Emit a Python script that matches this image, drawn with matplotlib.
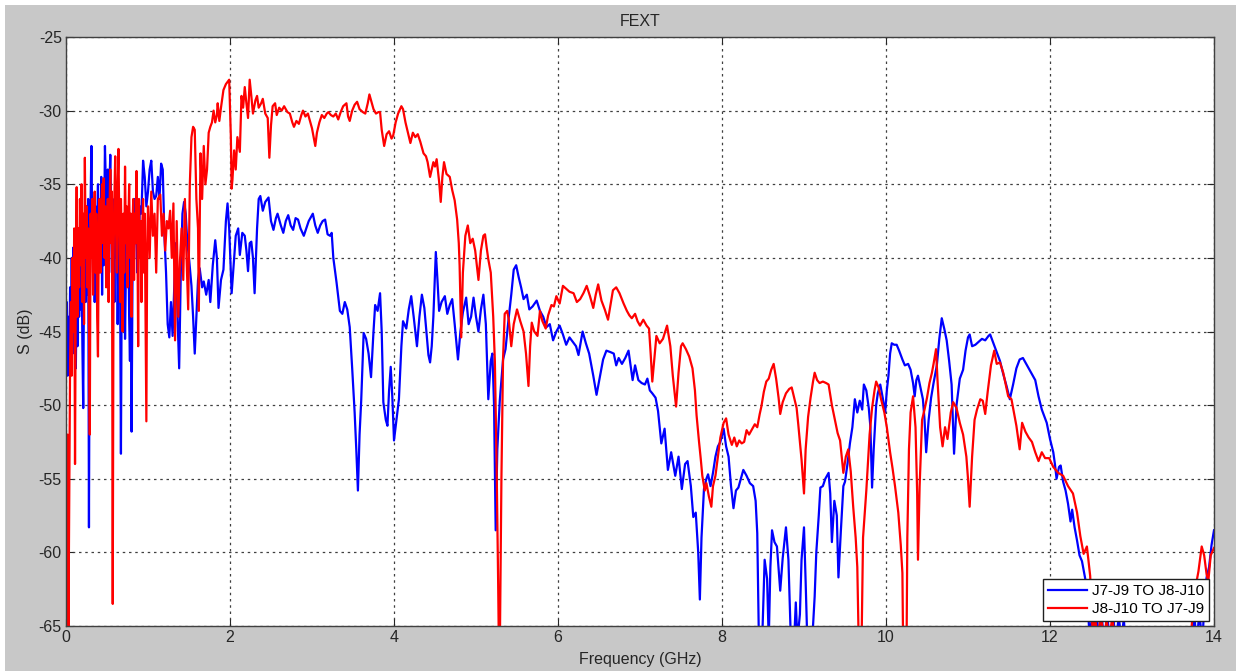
import matplotlib
matplotlib.use("Agg")
import matplotlib.pyplot as plt
from matplotlib.patches import Rectangle

# J7-J9 -> J8-J10 far-end crosstalk (GHz, dB)
blue_f = [0.0, 0.01, 0.02, 0.03, 0.04, 0.05, 0.06, 0.07, 0.08, 0.09, 0.10, 0.11, 0.12, 0.13, 0.14,
          0.15, 0.16, 0.17, 0.18, 0.19, 0.20, 0.21, 0.22, 0.23, 0.24, 0.25, 0.26, 0.27, 0.28, 0.29,
          0.30, 0.31, 0.32, 0.33, 0.34, 0.35, 0.36, 0.37, 0.38, 0.39, 0.40, 0.41, 0.42, 0.43, 0.44,
          0.45, 0.46, 0.475, 0.49, 0.50, 0.51, 0.52, 0.53, 0.54, 0.55, 0.56, 0.57, 0.58, 0.59, 0.60,
          0.61, 0.62, 0.63, 0.64, 0.65, 0.66, 0.67, 0.68, 0.69, 0.70, 0.71, 0.72, 0.73, 0.74, 0.75,
          0.76, 0.77, 0.78, 0.79, 0.80, 0.81, 0.82, 0.83, 0.84, 0.85, 0.86, 0.87, 0.88, 0.89, 0.90,
          0.92, 0.94, 0.96, 0.98, 1.00, 1.02, 1.04, 1.06, 1.08, 1.10, 1.12, 1.14, 1.16, 1.18, 1.20,
          1.22, 1.24, 1.26, 1.28, 1.30, 1.32, 1.34, 1.36, 1.38, 1.40, 1.42, 1.44, 1.46, 1.48, 1.50,
          1.53, 1.55, 1.57, 1.59, 1.61, 1.63, 1.66, 1.68, 1.71, 1.74, 1.76, 1.79, 1.82, 1.84, 1.86,
          1.89, 1.92, 1.95, 1.97, 1.99, 2.02, 2.05, 2.07, 2.10, 2.12, 2.15, 2.18, 2.20, 2.22, 2.24,
          2.26, 2.28, 2.30, 2.33, 2.35, 2.37, 2.40, 2.43, 2.47, 2.50, 2.53, 2.56, 2.58, 2.62, 2.65,
          2.68, 2.71, 2.74, 2.77, 2.80, 2.83, 2.86, 2.90, 2.93, 2.96, 3.01, 3.04, 3.07, 3.10, 3.13,
          3.16, 3.19, 3.22, 3.24, 3.26, 3.30, 3.34, 3.37, 3.40, 3.43, 3.46, 3.49, 3.52, 3.54, 3.56,
          3.58, 3.60, 3.63, 3.66, 3.69, 3.72, 3.75, 3.77, 3.80, 3.83, 3.85, 3.87, 3.90, 3.92, 3.94,
          3.96, 3.98, 4.00, 4.03, 4.06, 4.09, 4.11, 4.15, 4.18, 4.21, 4.24, 4.28, 4.31, 4.34, 4.37,
          4.40, 4.42, 4.44, 4.46, 4.48, 4.51, 4.53, 4.55, 4.58, 4.62, 4.65, 4.68, 4.71, 4.74, 4.78,
          4.81, 4.84, 4.88, 4.91, 4.94, 4.97, 5.00, 5.03, 5.06, 5.09, 5.12, 5.15, 5.18, 5.20, 5.22,
          5.24, 5.26, 5.29, 5.33, 5.36, 5.40, 5.43, 5.46, 5.49, 5.52, 5.55, 5.58, 5.62, 5.65, 5.69,
          5.74, 5.78, 5.82, 5.86, 5.90, 5.94, 5.98, 6.02, 6.06, 6.10, 6.14, 6.18, 6.22, 6.25, 6.30,
          6.34, 6.38, 6.43, 6.47, 6.51, 6.55, 6.59, 6.64, 6.68, 6.71, 6.74, 6.78, 6.82, 6.86, 6.91,
          6.94, 6.98, 7.02, 7.06, 7.09, 7.12, 7.15, 7.19, 7.22, 7.26, 7.30, 7.34, 7.38, 7.43, 7.47,
          7.51, 7.55, 7.58, 7.62, 7.65, 7.68, 7.71, 7.73, 7.75, 7.78, 7.81, 7.83, 7.86, 7.89, 7.92,
          7.95, 7.98, 8.02, 8.05, 8.08, 8.11, 8.14, 8.17, 8.20, 8.23, 8.26, 8.30, 8.34, 8.38, 8.41,
          8.43, 8.45, 8.49, 8.52, 8.55, 8.57, 8.59, 8.61, 8.64, 8.67, 8.71, 8.74, 8.78, 8.81, 8.84,
          8.88, 8.90, 8.92, 8.95, 8.97, 9.00, 9.02, 9.04, 9.10, 9.13, 9.15, 9.18, 9.20, 9.23, 9.26,
          9.30, 9.32, 9.34, 9.37, 9.40, 9.42, 9.45, 9.48, 9.50, 9.53, 9.56, 9.59, 9.62, 9.65, 9.68,
          9.71, 9.73, 9.76, 9.79, 9.81, 9.83, 9.85, 9.88, 9.90, 9.93, 9.96, 9.99, 10.01, 10.03, 10.05,
          10.07, 10.10, 10.13, 10.16, 10.20, 10.23, 10.27, 10.30, 10.33, 10.35, 10.37, 10.39, 10.42, 10.45, 10.47,
          10.49, 10.52, 10.55, 10.58, 10.62, 10.65, 10.68, 10.71, 10.74, 10.77, 10.80, 10.83, 10.86, 10.90, 10.94,
          10.97, 11.00, 11.02, 11.05, 11.09, 11.13, 11.17, 11.21, 11.25, 11.27, 11.31, 11.35, 11.39, 11.43, 11.47,
          11.51, 11.55, 11.59, 11.63, 11.67, 11.71, 11.75, 11.79, 11.82, 11.86, 11.90, 11.96, 12.00, 12.04, 12.06,
          12.08, 12.11, 12.13, 12.16, 12.19, 12.22, 12.25, 12.27, 12.30, 12.33, 12.36, 12.39, 12.43, 12.46, 12.48,
          12.52, 12.54, 12.57, 12.60, 12.63, 12.66, 12.70, 12.73, 12.77, 12.80, 12.84, 12.87, 12.90, 12.93, 13.50,
          13.72, 13.76, 13.79, 13.82, 13.86, 13.89, 13.91, 13.94, 13.97, 14.00]
blue_db = [-47, -43, -48, -44, -47.5, -42, -46, -40, -46.5, -39.3, -45, -41, -47.5, -42, -46,
           -39.5, -44, -41, -43.5, -40, -46, -50.2, -41, -37, -43, -38, -42.5, -36, -58.3, -40,
           -36, -32.4, -38, -41, -37, -43, -36.5, -40, -38, -35, -41, -37, -39.5, -34.5, -42.5,
           -37, -40.5, -32.4, -36, -39.5, -34, -38, -35, -33, -37, -41, -36, -38.5, -43, -37,
           -40, -38, -44.5, -40, -37.5, -42, -53.3, -41, -38, -42, -39, -45.5, -41, -38, -40.5,
           -37.5, -44, -47, -40, -51.8, -42, -38, -40, -36, -39, -37.5, -41, -37, -39, -36.5,
           -37, -33.4, -34.5, -36.5, -35.5, -34, -33.4, -35.5, -36, -35.8, -34.5, -36, -33.6, -34, -38.5,
           -41, -44.5, -45.4, -43, -45.3, -42, -39, -44, -47.5, -41, -37, -36.2, -37, -39, -40,
           -41.9, -44, -46.5, -44, -41.5, -40.7, -42, -41.6, -42.5, -41.5, -43, -40.5, -38.8, -40, -43.4,
           -41.5, -40.8, -37.5, -36.3, -38, -42.4, -40, -38.5, -38, -39.8, -38.3, -38.5, -39.5, -40.9, -39,
           -38.9, -40, -42.4, -38, -36, -35.8, -36.8, -36.2, -35.9, -37.5, -38.1, -37.3, -37, -37.8, -38.3,
           -37.5, -37.1, -37.8, -38.1, -37.3, -37.4, -38, -38.5, -38, -37.5, -37, -37.8, -38.3, -37.8, -37.5,
           -37.4, -38.4, -38.5, -38.3, -40, -41.7, -43.6, -43.8, -43.0, -43.5, -44.7, -47.5, -50.5, -53, -55.8,
           -52, -49.7, -45.1, -45.5, -46.5, -48.1, -45, -43.2, -43.6, -42.4, -45, -49.8, -51, -51.4, -49,
           -47.4, -49.5, -52.4, -51, -49.6, -46, -44.3, -44.8, -43.5, -42.6, -44, -46.0, -44, -42.5, -43.4,
           -45.3, -46.6, -47.1, -46, -44, -39.6, -41.5, -43.6, -43, -42.6, -43.8, -43.2, -42.8, -44.5, -46.9,
           -45, -43.7, -42.7, -44.5, -44, -42.7, -44, -45, -43.5, -42.5, -44.5, -49.6, -47, -46.5, -50,
           -58.5, -53, -49.7, -46.9, -46.2, -44, -42.5, -40.8, -40.5, -41.3, -42, -42.8, -42.5, -43.5, -43.3,
           -42.9, -43.6, -44, -44.7, -44.5, -45.6, -45, -44.6, -45.2, -45.9, -45.4, -45.7, -46, -46.6, -45.0,
           -45.8, -46.5, -48, -49.3, -48.1, -46.9, -46.3, -46.4, -46.5, -47.3, -46.8, -47.2, -46.8, -46.3, -48.3,
           -47.3, -48.3, -48.5, -48.6, -48.2, -49.0, -49.2, -49.5, -50.4, -52.6, -51.6, -54.4, -53.2, -54.8, -53.5,
           -55.7, -54.0, -53.8, -55.5, -57.6, -57.3, -60, -63.2, -59, -55.7, -55.0, -54.7, -55.5, -54.6, -53.5,
           -52.8, -52.5, -51.6, -52.8, -53.5, -55.5, -57, -55.8, -55.6, -55, -54.4, -54.8, -55.3, -55.5, -56.5,
           -58.7, -66, -66, -60.5, -61.8, -66, -61, -58.5, -59.3, -59.6, -62.6, -60.4, -58.3, -60.5, -66,
           -66, -63.4, -66, -64.2, -60.5, -58.3, -62, -66, -66, -63, -60, -57.5, -55.6, -55.5, -55,
           -54.6, -56, -59.3, -56.5, -57.5, -61.7, -58.5, -55.5, -55.2, -54, -52.6, -51.5, -49.6, -50.5, -49.7,
           -50.3, -48.6, -49, -50.2, -51.5, -55.6, -53, -50, -49.2, -48.6, -49.5, -50.5, -49, -48, -46.5,
           -45.8, -45.9, -45.9, -46.3, -46.9, -47.3, -47.2, -47.6, -48.5, -49.4, -48.3, -48.0, -48.8, -49.6, -51,
           -53.2, -51, -49.5, -48.5, -47.3, -45.5, -44.1, -44.8, -45.6, -47, -48.6, -53.3, -50, -48.2, -47.6,
           -46.3, -45.4, -45.2, -46, -45.9, -45.7, -45.5, -45.6, -45.3, -45.2, -45.8, -46.4, -47, -47.9, -48.7,
           -49.6, -48.6, -47.5, -46.9, -46.8, -47.2, -47.6, -48, -48.3, -49.4, -50.3, -51.2, -52.3, -53.2, -54,
           -55.0, -54.2, -54.1, -55.2, -55.8, -56.7, -57.9, -57.1, -58.3, -59.2, -60.2, -60.6, -61.8, -63.5, -65.5,
           -64.3, -66, -64.3, -66, -64.3, -66, -64.4, -66, -64.3, -66, -64.4, -66, -64.5, -67, -68,
           -66, -64.4, -66, -64.2, -66, -62.5, -61.7, -61, -59.5, -58.5]

# J8-J10 -> J7-J9 far-end crosstalk (GHz, dB)
red_f = [0.0, 0.01, 0.02, 0.03, 0.04, 0.05, 0.06, 0.07, 0.08, 0.09, 0.10, 0.11, 0.12, 0.13, 0.14,
         0.15, 0.16, 0.17, 0.18, 0.19, 0.20, 0.21, 0.22, 0.23, 0.24, 0.25, 0.26, 0.27, 0.28, 0.29,
         0.30, 0.31, 0.32, 0.33, 0.34, 0.35, 0.36, 0.37, 0.38, 0.39, 0.40, 0.41, 0.42, 0.43, 0.44,
         0.45, 0.46, 0.47, 0.48, 0.49, 0.50, 0.51, 0.52, 0.53, 0.54, 0.55, 0.56, 0.57, 0.58, 0.59,
         0.60, 0.61, 0.62, 0.63, 0.64, 0.65, 0.66, 0.67, 0.68, 0.69, 0.70, 0.71, 0.72, 0.73, 0.74,
         0.75, 0.76, 0.77, 0.78, 0.79, 0.80, 0.81, 0.82, 0.83, 0.84, 0.85, 0.86, 0.87, 0.88, 0.89,
         0.90, 0.91, 0.92, 0.93, 0.94, 0.95, 0.96, 0.97, 0.98, 0.99, 1.00, 1.02, 1.04, 1.06, 1.08,
         1.10, 1.12, 1.15, 1.17, 1.19, 1.21, 1.23, 1.25, 1.27, 1.29, 1.31, 1.33, 1.35, 1.37, 1.39,
         1.41, 1.43, 1.45, 1.47, 1.49, 1.51, 1.53, 1.55, 1.57, 1.59, 1.61, 1.62, 1.64, 1.66, 1.68,
         1.70, 1.72, 1.74, 1.76, 1.78, 1.80, 1.82, 1.84, 1.85, 1.87, 1.89, 1.92, 1.95, 1.99, 2.01,
         2.02, 2.03, 2.05, 2.07, 2.09, 2.12, 2.14, 2.16, 2.18, 2.20, 2.22, 2.24, 2.26, 2.28, 2.31,
         2.33, 2.35, 2.38, 2.40, 2.43, 2.46, 2.48, 2.50, 2.52, 2.55, 2.57, 2.60, 2.63, 2.66, 2.70,
         2.73, 2.76, 2.78, 2.81, 2.84, 2.87, 2.89, 2.92, 2.95, 2.98, 3.00, 3.02, 3.04, 3.06, 3.09,
         3.12, 3.15, 3.18, 3.20, 3.23, 3.26, 3.29, 3.32, 3.35, 3.38, 3.42, 3.44, 3.46, 3.49, 3.52,
         3.55, 3.58, 3.62, 3.65, 3.68, 3.70, 3.72, 3.75, 3.78, 3.81, 3.83, 3.85, 3.88, 3.91, 3.94,
         3.97, 3.99, 4.02, 4.05, 4.09, 4.11, 4.14, 4.17, 4.20, 4.23, 4.26, 4.29, 4.32, 4.36, 4.39,
         4.41, 4.44, 4.46, 4.48, 4.50, 4.52, 4.55, 4.57, 4.59, 4.61, 4.64, 4.68, 4.71, 4.74, 4.77,
         4.79, 4.80, 4.82, 4.84, 4.87, 4.90, 4.93, 4.96, 4.99, 5.03, 5.06, 5.09, 5.11, 5.13, 5.15,
         5.18, 5.21, 5.23, 5.25, 5.27, 5.28, 5.29, 5.31, 5.33, 5.35, 5.38, 5.40, 5.43, 5.46, 5.50,
         5.54, 5.58, 5.61, 5.64, 5.66, 5.68, 5.71, 5.75, 5.78, 5.81, 5.85, 5.88, 5.92, 5.95, 5.98,
         6.02, 6.06, 6.10, 6.14, 6.19, 6.23, 6.27, 6.31, 6.35, 6.39, 6.43, 6.46, 6.49, 6.53, 6.57,
         6.61, 6.64, 6.67, 6.71, 6.75, 6.80, 6.84, 6.87, 6.90, 6.94, 6.97, 7.00, 7.04, 7.08, 7.11,
         7.13, 7.15, 7.18, 7.20, 7.24, 7.28, 7.33, 7.37, 7.40, 7.44, 7.47, 7.50, 7.52, 7.56, 7.60,
         7.64, 7.67, 7.69, 7.72, 7.74, 7.76, 7.79, 7.81, 7.84, 7.87, 7.89, 7.92, 7.95, 7.98, 8.02,
         8.05, 8.08, 8.12, 8.15, 8.18, 8.21, 8.24, 8.27, 8.30, 8.33, 8.37, 8.40, 8.43, 8.46, 8.48,
         8.51, 8.54, 8.57, 8.60, 8.63, 8.66, 8.69, 8.71, 8.74, 8.78, 8.82, 8.85, 8.88, 8.91, 8.93,
         8.95, 8.97, 9.00, 9.02, 9.05, 9.08, 9.11, 9.13, 9.16, 9.19, 9.23, 9.27, 9.30, 9.34, 9.37,
         9.41, 9.44, 9.48, 9.51, 9.54, 9.57, 9.60, 9.63, 9.65, 9.67, 9.70, 9.72, 9.76, 9.80, 9.83,
         9.86, 9.88, 9.91, 9.94, 9.98, 10.01, 10.05, 10.08, 10.11, 10.15, 10.18, 10.20, 10.21, 10.25, 10.26,
         10.28, 10.30, 10.33, 10.36, 10.38, 10.39, 10.41, 10.44, 10.47, 10.50, 10.53, 10.56, 10.58, 10.61, 10.63,
         10.66, 10.69, 10.72, 10.75, 10.79, 10.82, 10.86, 10.90, 10.94, 10.98, 11.00, 11.02, 11.05, 11.08, 11.11,
         11.15, 11.18, 11.21, 11.24, 11.28, 11.32, 11.35, 11.39, 11.43, 11.46, 11.49, 11.53, 11.57, 11.59, 11.63,
         11.66, 11.70, 11.74, 11.78, 11.82, 11.86, 11.90, 11.94, 11.99, 12.04, 12.10, 12.16, 12.22, 12.28, 12.33,
         12.37, 12.41, 12.45, 12.49, 12.52, 12.55, 12.58, 12.62, 12.66, 12.69, 12.72, 12.76, 12.79, 12.82, 13.60,
         13.71, 13.74, 13.77, 13.81, 13.85, 13.88, 13.91, 13.93, 13.96, 14.00]
red_db = [-52, -65, -52, -65, -55.5, -47, -43, -48, -40, -45, -38, -54, -41, -35.2, -44,
          -38, -42, -36, -40.5, -35, -43, -37, -44.5, -33.2, -40, -36.5, -42, -38, -44, -52,
          -37, -40, -36, -42.5, -38, -35.5, -41, -37, -44, -46.7, -38, -36, -41, -37.5, -35,
          -39, -34.6, -40, -36.5, -42, -38, -36, -43, -37, -34, -39, -35.5, -63.5, -40, -36,
          -33.1, -38, -41, -35, -32.6, -37.5, -43, -36, -39, -45, -37, -41, -33.8, -39, -36.5,
          -42, -38, -35, -40, -37, -44, -38, -36, -41.5, -37, -39, -34.1, -38, -46, -36,
          -40, -37.5, -43, -38, -36, -41, -37, -44, -51.1, -39, -36.5, -40, -35.5, -38.5, -37,
          -41, -36, -35.7, -38.5, -37, -39.5, -37.5, -38, -36.8, -40, -36.3, -45.6, -37.5, -44, -40.2,
          -38, -41.5, -36, -40, -43.5, -35, -31.8, -31.1, -31.3, -36, -38, -43.6, -32.9, -36, -32.4,
          -35, -34, -31.5, -31.1, -30.8, -30, -30.8, -30.3, -29.5, -30.7, -29.8, -28.6, -28.2, -27.9, -31.7,
          -35.3, -34.7, -32.7, -34, -31.8, -32.8, -29, -29.8, -28.4, -29.5, -30.5, -27.9, -29, -30.2, -29.3,
          -29, -29.8, -29.5, -29.2, -30.2, -30.5, -33.2, -31, -29.7, -29.5, -30.3, -29.8, -30, -29.7, -30.1,
          -30.2, -30.8, -31.1, -30.7, -30.9, -30.3, -30, -30.4, -30.2, -30.8, -31.2, -31.8, -32.4, -31.5, -30.8,
          -30.3, -30.5, -30.2, -30.1, -30.3, -30.4, -30.2, -30.6, -30.1, -29.7, -29.5, -30.4, -30.7, -30, -29.6,
          -29.4, -29.9, -30.1, -30.2, -29.5, -28.9, -29.3, -29.9, -30.2, -30.1, -30.1, -31.3, -32.4, -31.6, -31.4,
          -31.9, -31.7, -30.8, -30.2, -29.7, -29.9, -30.8, -31.5, -32.2, -31.5, -31.8, -31.6, -32.1, -32.9, -33.1,
          -33.5, -34.5, -34, -33.5, -33.8, -33.3, -34.8, -36.2, -34.5, -33.5, -34.3, -34.5, -35.4, -36.1, -37.4,
          -39.0, -40.5, -45.4, -41, -38.5, -37.8, -39, -38.7, -39.5, -41.5, -39.5, -38.5, -38.4, -39.3, -40.1,
          -41, -44, -47, -53.5, -62, -67, -67, -55, -46.8, -43.8, -43.6, -44.2, -46, -44.5, -43.5,
          -44.3, -45, -46.5, -48.7, -46, -44.4, -45, -45.3, -43.6, -44.3, -44.8, -43.9, -43.2, -43.3, -42.6,
          -43.1, -41.9, -42.1, -42.3, -42.4, -43, -42.8, -42.4, -41.9, -42.6, -43.4, -42.5, -41.8, -42.9, -43.5,
          -44.2, -43.2, -42.2, -42, -42.4, -43.1, -43.6, -43.9, -44.1, -43.8, -44.3, -44.6, -44.2, -44.6, -44.8,
          -46.5, -48.4, -46.5, -45.3, -45.8, -45.5, -44.6, -46, -48, -50.1, -47.8, -46, -45.8, -46.2, -46.7,
          -47.5, -49, -50.7, -52.5, -53.6, -54.8, -55.8, -55.3, -56.2, -56.9, -55.5, -54.8, -53.5, -52.2, -51.2,
          -50.9, -52, -52.7, -52.2, -52.8, -52.4, -52.6, -52.5, -51.7, -52, -51.6, -51.3, -51.5, -50.6, -50.1,
          -49.1, -48.4, -48.2, -47.6, -47.2, -48.2, -49.5, -50.6, -49.8, -49.2, -48.9, -48.8, -49.5, -50.2, -51.3,
          -52.5, -53.7, -56, -53, -50.8, -49.5, -48.4, -47.8, -48.3, -48.5, -48.4, -48.5, -48.6, -50, -50.8,
          -51.9, -52.4, -54.6, -53.5, -53, -54.5, -56.9, -59, -61, -67, -67, -59, -55.8, -52, -50.2,
          -49, -48.4, -48.8, -49.6, -50.5, -51.5, -53.2, -54.3, -55.5, -57.3, -59.5, -61.4, -67, -67, -59,
          -53, -50.5, -49.4, -51.5, -56, -60.5, -55.5, -51, -50.3, -49.5, -48.5, -47.8, -47.2, -46.2, -48.5,
          -51.5, -52.8, -51.5, -52.3, -50.5, -49.8, -50.2, -51.2, -52, -53.5, -55, -56.9, -53.5, -51, -50.3,
          -49.6, -49.7, -50.6, -49.1, -47.3, -46.3, -47.2, -47.1, -47.8, -48.6, -49.4, -49.6, -50.8, -51.4, -53,
          -51.2, -51.8, -52.2, -52.5, -53.2, -53.8, -53.2, -53.6, -53.6, -54.2, -54.6, -54.8, -55.5, -56, -57.3,
          -58.9, -60.1, -59.6, -61.6, -65.5, -64.4, -66, -64.3, -66, -64.5, -66, -64.4, -66, -67, -68,
          -66, -64.3, -62.5, -61.3, -59.6, -60.2, -61.5, -62, -60.2, -59.7]

series_labels = ["J7-J9 TO J8-J10", "J8-J10 TO J7-J9"]
x_ticks = [0, 2, 4, 6, 8, 10, 12, 14]
y_ticks = [-65, -60, -55, -50, -45, -40, -35, -30, -25]

plt.rcParams['font.family'] = ['Liberation Sans', 'DejaVu Sans']
plt.rcParams['axes.unicode_minus'] = False

fig = plt.figure(figsize=(12.36, 6.71), dpi=100, facecolor='#c8c8c8')
# thin white margin along the top and left edge
fig.patches.append(Rectangle((0, 1 - 5 / 671), 1, 5 / 671, transform=fig.transFigure,
                             facecolor='white', edgecolor='none', zorder=-1))
fig.patches.append(Rectangle((0, 0), 5 / 1236, 1, transform=fig.transFigure,
                             facecolor='white', edgecolor='none', zorder=-1))

ax = fig.add_axes([66 / 1236, 45 / 671, 1148 / 1236, 589 / 671])
ax.set_facecolor('white')

ax.plot(blue_f, blue_db, color='#0000ff', linewidth=1.6, label=series_labels[0])
ax.plot(red_f, red_db, color='#ff0000', linewidth=1.6, label=series_labels[1])

ax.set_xlim(0, 14)
ax.set_ylim(-65, -25)
ax.set_xticks(x_ticks)
ax.set_yticks(y_ticks)

ax.grid(True, color='#404040', linestyle=(0, (2, 3)), linewidth=0.9)
ax.tick_params(direction='in', top=True, right=True, length=5, width=0.8,
               labelsize=11.5, colors='#262626', pad=3)
for s in ax.spines.values():
    s.set_color('#404040')
    s.set_linewidth(1.0)

ax.set_title('FEXT', fontsize=11.5, color='#262626', pad=8)
ax.set_xlabel('Frequency (GHz)', fontsize=11.5, color='#262626', labelpad=5)
ax.set_ylabel('S (dB)', fontsize=11.5, color='#262626', labelpad=4)

leg = ax.legend(loc='lower right', fontsize=11, fancybox=False, framealpha=1,
                edgecolor='#202020', borderpad=0.35, labelspacing=0.25, handlelength=2.5,
                handletextpad=0.35, borderaxespad=0.3)
leg.get_frame().set_linewidth(1.0)

fig.savefig('out.png', dpi=100, facecolor=fig.get_facecolor())
